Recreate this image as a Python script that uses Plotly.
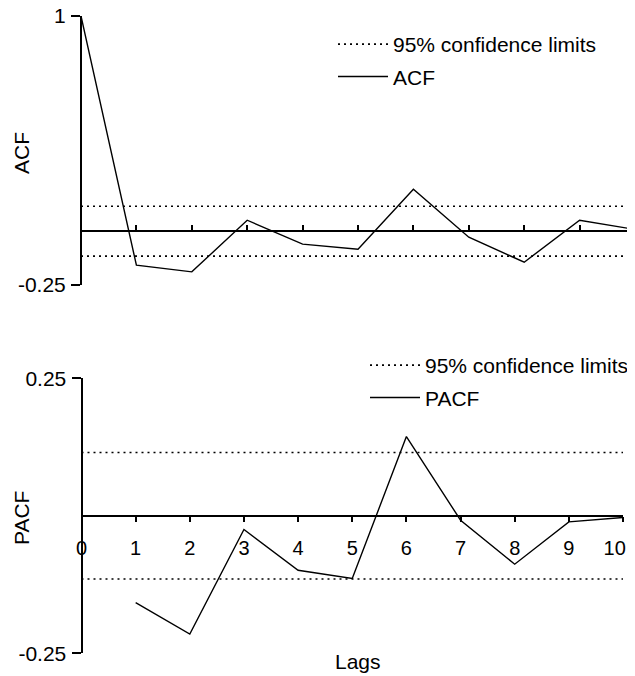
import plotly.graph_objects as go

lags = [0, 1, 2, 3, 4, 5, 6, 7, 8, 9, 10]
acf = [1.0, -0.158, -0.189, 0.051, -0.06, -0.084, 0.195, -0.028, -0.144, 0.051, 0.008]
pacf_lags = [1, 2, 3, 4, 5, 6, 7, 8, 9, 10]
pacf = [-0.158, -0.215, -0.025, -0.099, -0.114, 0.144, -0.008, -0.088, -0.011, -0.003]
acf_conf = 0.116
pacf_conf = 0.115
acf_range = [-0.25, 1.0]
pacf_range = [-0.25, 0.25]
tick_lags = list(range(0, 11))
tick_labels = [str(v) for v in tick_lags]
tick_labels[-1] = tick_labels[-1] + "\u00a0\u00a0\u00a0"  # keep "10" inside the page

OFF = 8  # page body margin
W, H = 635 - OFF, 676 - OFF
FONT = "Liberation Sans, Arial, sans-serif"
FS = 21

def px_x(p):
    return (p - OFF) / W

def px_y(p):
    return (H - (p - OFF)) / H

top_x = [px_x(81), px_x(635)]
top_y = [px_y(285), px_y(16)]
bot_x = [px_x(81.5), px_x(623)]
bot_y = [px_y(653.3), px_y(378.3)]

def zero_pos(dom, rng):
    return dom[0] + (0 - rng[0]) / (rng[1] - rng[0]) * (dom[1] - dom[0])

fig = go.Figure()

conf_style = dict(color="black", width=1.6, dash="2px,4px")
fig.add_trace(go.Scatter(
    x=[lags[0], lags[-1], None, lags[0], lags[-1]],
    y=[acf_conf, acf_conf, None, -acf_conf, -acf_conf],
    mode="lines", line=conf_style, name="95% confidence limits",
    xaxis="x", yaxis="y", legend="legend", legendgroup="a1"))
fig.add_trace(go.Scatter(
    x=lags, y=acf, mode="lines", line=dict(color="black", width=1.4),
    name="ACF", xaxis="x", yaxis="y", legend="legend", legendgroup="a2"))

fig.add_trace(go.Scatter(
    x=[tick_lags[0], tick_lags[-1], None, tick_lags[0], tick_lags[-1]],
    y=[pacf_conf, pacf_conf, None, -pacf_conf, -pacf_conf],
    mode="lines", line=conf_style, name="95% confidence limits",
    xaxis="x2", yaxis="y2", legend="legend2", legendgroup="b1"))
fig.add_trace(go.Scatter(
    x=pacf_lags, y=pacf, mode="lines", line=dict(color="black", width=1.4),
    name="PACF", xaxis="x2", yaxis="y2", legend="legend2", legendgroup="b2"))

axis_common = dict(showgrid=False, zeroline=False, showline=True, automargin=False,
                   linecolor="black", linewidth=2, tickcolor="black",
                   ticklabeloverflow="allow")

fig.update_layout(
    width=W, height=H, margin=dict(l=0, r=0, t=0, b=0, autoexpand=False),
    paper_bgcolor="white", plot_bgcolor="white",
    font=dict(family=FONT, size=FS, color="black"),
    xaxis=dict(domain=top_x, range=[0, 10.0001], anchor="free",
               position=zero_pos(top_y, acf_range),
               tickvals=tick_lags, ticks="inside", ticklen=5, tickwidth=1.5,
               showticklabels=False, **axis_common),
    yaxis=dict(domain=top_y, range=acf_range, anchor="free", position=top_x[0],
               tickvals=[acf_range[0], acf_range[1]], ticktext=["-0.25", "1"],
               ticks="outside", ticklen=9, tickwidth=1.5, ticklabelstandoff=1,
               tickfont=dict(family=FONT, size=FS, color="black"),
               **axis_common),
    xaxis2=dict(domain=bot_x, range=[0, 10.0001], anchor="free",
                position=zero_pos(bot_y, pacf_range),
                tickvals=tick_lags, ticktext=tick_labels,
                ticks="outside", ticklen=5, tickwidth=1.5,
                ticklabelstandoff=9,
                tickfont=dict(family=FONT, size=20, color="black"),
                **axis_common),
    yaxis2=dict(domain=bot_y, range=pacf_range, anchor="free", position=bot_x[0],
                tickvals=[pacf_range[0], pacf_range[1]], ticktext=["-0.25", "0.25"],
                ticks="outside", ticklen=9, tickwidth=1.5, ticklabelstandoff=1,
                tickfont=dict(family=FONT, size=FS, color="black"),
                **axis_common),
    legend=dict(x=px_x(333), y=px_y(24), xanchor="left", yanchor="top",
                bgcolor="rgba(0,0,0,0)", traceorder="grouped", tracegroupgap=2,
                font=dict(family=FONT, size=FS, color="black"), itemwidth=50),
    legend2=dict(x=px_x(365), y=px_y(345), xanchor="left", yanchor="top",
                 bgcolor="rgba(0,0,0,0)", traceorder="grouped", tracegroupgap=2,
                 font=dict(family=FONT, size=FS, color="black"), itemwidth=50),
    annotations=[
        dict(text="ACF", x=px_x(21), y=px_y(153), xref="paper", yref="paper",
             xanchor="center", yanchor="middle",
             textangle=-90, showarrow=False, font=dict(family=FONT, size=FS)),
        dict(text="PACF", x=px_x(21), y=px_y(518), xref="paper", yref="paper",
             xanchor="center", yanchor="middle",
             textangle=-90, showarrow=False, font=dict(family=FONT, size=FS)),
        dict(text="Lags", x=px_x(358), y=px_y(661), xref="paper", yref="paper",
             xanchor="center", yanchor="middle",
             showarrow=False, font=dict(family=FONT, size=FS)),
    ],
)

fig.write_html("out.html")
